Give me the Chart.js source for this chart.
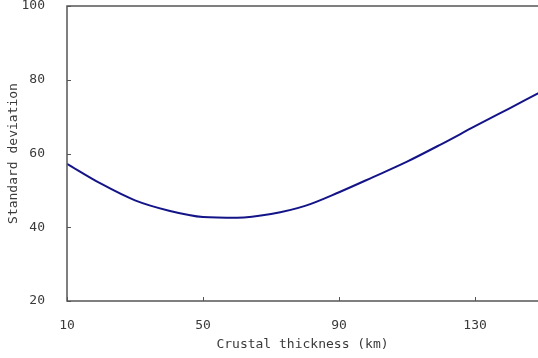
<!DOCTYPE html>
<html>
<head>
<meta charset="utf-8">
<script src="https://cdn.jsdelivr.net/npm/chart.js@4/dist/chart.umd.min.js"></script>
<style>
  html, body { margin: 0; padding: 0; background: #fff; overflow: hidden; }
  #wrap { width: 538px; height: 358px; }
</style>
</head>
<body>
<div id="wrap"><canvas id="chart"></canvas></div>
<script>
const thickness = [10, 20, 30, 40, 50, 60, 70, 80, 90, 100, 110, 120, 130, 140, 150];
const stdDev = [57.2, 51.8, 47.3, 44.5, 42.8, 42.6, 43.6, 45.8, 49.5, 53.6, 57.8, 62.5, 67.4, 72.2, 77.0];
const xTicks = [10, 50, 90, 130];
const yTicks = [20, 40, 60, 80, 100];

const axisColor = "#555";
const textColor = "#3a3a3a";
const fontSpec = { family: "'DejaVu Sans Mono', monospace", size: 13 };

// frame round the plot area plus short inward tick marks
const framePlugin = {
  id: "frame",
  afterDraw(chart) {
    const { ctx, chartArea: a, scales } = chart;
    ctx.save();
    ctx.strokeStyle = axisColor;
    ctx.lineWidth = 1.5;
    ctx.strokeRect(a.left, a.top, a.right - a.left + 2, a.bottom - a.top);
    ctx.lineWidth = 1;
    xTicks.forEach((v) => {
      const px = Math.round(scales.x.getPixelForValue(v)) + 0.5;
      ctx.beginPath();
      ctx.moveTo(px, a.bottom);
      ctx.lineTo(px, a.bottom - 4);
      ctx.stroke();
    });
    yTicks.forEach((v) => {
      const py = Math.round(scales.y.getPixelForValue(v)) + 0.5;
      ctx.beginPath();
      ctx.moveTo(a.left, py);
      ctx.lineTo(a.left + 4, py);
      ctx.stroke();
    });
    ctx.restore();
  },
};

new Chart(document.getElementById("chart"), {
  type: "line",
  data: {
    datasets: [
      {
        data: thickness.map((x, i) => ({ x: x, y: stdDev[i] })),
        borderColor: "#141489",
        borderWidth: 2,
        pointRadius: 0,
        cubicInterpolationMode: "monotone",
        fill: false,
      },
    ],
  },
  options: {
    responsive: true,
    maintainAspectRatio: false,
    animation: false,
    layout: { padding: { top: 6, right: 0, left: 0, bottom: 0 } },
    plugins: { legend: { display: false }, tooltip: { enabled: false } },
    scales: {
      x: {
        type: "linear",
        min: 10,
        max: 148.5,
        afterBuildTicks: (s) => { s.ticks = xTicks.map((v) => ({ value: v })); },
        afterFit: (s) => { s.height = 57; s.paddingLeft = 0; s.paddingRight = 0; },
        grid: { display: false },
        border: { display: false },
        ticks: { color: textColor, font: fontSpec, padding: 9, maxRotation: 0 },
        title: { display: true, text: "Crustal thickness (km)", color: textColor, font: fontSpec, padding: { top: 0, bottom: 6 } },
      },
      y: {
        min: 20,
        max: 100,
        afterBuildTicks: (s) => { s.ticks = yTicks.map((v) => ({ value: v })); },
        afterFit: (s) => { s.width = 67; s.paddingTop = 0; s.paddingBottom = 0; },
        grid: { display: false },
        border: { display: false },
        ticks: { color: textColor, font: fontSpec, padding: 14 },
        title: { display: true, text: "Standard deviation", color: textColor, font: fontSpec, padding: { top: 6, bottom: 0 } },
      },
    },
  },
  plugins: [framePlugin],
});
</script>
</body>
</html>
